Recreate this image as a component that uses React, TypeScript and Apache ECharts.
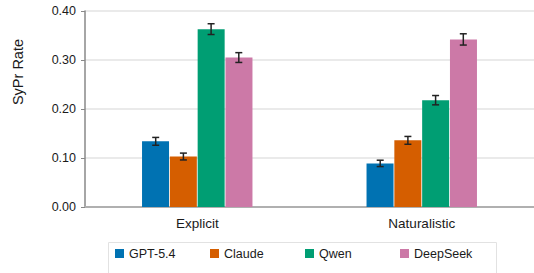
import React, { useEffect, useRef } from "react";
import * as echarts from "echarts";

const categories = ["Explicit", "Naturalistic"];
const models = ["GPT-5.4", "Claude", "Qwen", "DeepSeek"];
const colors = ["#0072B2", "#D55E00", "#009E73", "#CC79A7"];
const gptValues = [0.134, 0.089];
const claudeValues = [0.103, 0.136];
const qwenValues = [0.363, 0.218];
const deepseekValues = [0.305, 0.342];
const gptErr = [0.008, 0.0065];
const claudeErr = [0.007, 0.008];
const qwenErr = [0.011, 0.0095];
const deepseekErr = [0.010, 0.0115];
const yTicks = [0, 0.1, 0.2, 0.3, 0.4];

const values = [gptValues, claudeValues, qwenValues, deepseekValues];
const errs = [gptErr, claudeErr, qwenErr, deepseekErr];

const BAR_W = 27;
const STEP = 27.7;
const FONT = "Liberation Sans, Arial, Helvetica, sans-serif";

export default function App() {
  const ref = useRef<HTMLDivElement>(null);
  useEffect(() => {
    if (!ref.current) return;
    const chart = echarts.init(ref.current, undefined, { renderer: "svg" });
    const errData: number[][] = [];
    values.forEach((vals, s) => {
      vals.forEach((v, c) => errData.push([c, v, errs[s][c], s]));
    });
    const legendX = [115, 210, 305, 400];
    chart.setOption({
      animation: false,
      textStyle: { fontFamily: FONT },
      grid: { left: 85, top: 11, width: 450, height: 196, containLabel: false },
      legend: models.map((m, i) => ({
        data: [m],
        left: legendX[i],
        top: 247,
        padding: 0,
        icon: "rect",
        itemWidth: 9,
        itemHeight: 9,
        selectedMode: false,
        textStyle: { fontSize: 12.5, color: "#1a1a1a", fontFamily: FONT },
      })),
      graphic: [
        {
          type: "rect",
          left: 108,
          top: 242,
          shape: { width: 388, height: 40 },
          style: { fill: "#fff", stroke: "#e2e2e2", lineWidth: 1 },
          z: -1,
        },
        {
          type: "text",
          x: 18,
          y: 72,
          rotation: Math.PI / 2,
          style: {
            text: "SyPr Rate",
            fontSize: 14.5,
            fill: "#1a1a1a",
            fontFamily: FONT,
            align: "center",
            verticalAlign: "middle",
          },
        },
      ],
      xAxis: {
        type: "category",
        data: categories,
        axisLine: { lineStyle: { color: "#b0b0b0", width: 2 } },
        axisTick: { show: false },
        axisLabel: { fontSize: 13.5, color: "#1a1a1a", margin: 9, fontFamily: FONT },
      },
      yAxis: {
        type: "value",
        min: 0,
        max: 0.4,
        interval: 0.1,
        axisLine: { show: true, lineStyle: { color: "#888", width: 1.5 } },
        axisTick: { show: true, length: 4, lineStyle: { color: "#888" } },
        splitLine: { lineStyle: { color: "#e3e3e3", width: 1.5 } },
        axisLabel: {
          fontSize: 12.5,
          color: "#1a1a1a",
          margin: 9,
          fontFamily: FONT,
          formatter: (v: number) => (yTicks.includes(Math.round(v * 10) / 10) ? v.toFixed(2) : ""),
        },
      },
      series: [
        ...models.map((m, i) => ({
          name: m,
          type: "bar",
          data: values[i],
          barWidth: BAR_W,
          barGap: "3%",
          itemStyle: { color: colors[i] },
        })),
        {
          type: "custom",
          data: errData,
          encode: { x: 0, y: 1 },
          z: 10,
          renderItem: (params: any, api: any) => {
            const c = api.value(0);
            const v = api.value(1);
            const e = api.value(2);
            const s = api.value(3);
            const cx = api.coord([c, 0])[0] + (s - 1.5) * STEP;
            const yT = api.coord([c, v + e])[1];
            const yB = api.coord([c, v - e])[1];
            const hw = 3.5;
            const style = { stroke: "#222", lineWidth: 1.5 };
            return {
              type: "group",
              children: [
                { type: "line", shape: { x1: cx, y1: yT, x2: cx, y2: yB }, style },
                { type: "line", shape: { x1: cx - hw, y1: yT, x2: cx + hw, y2: yT }, style },
                { type: "line", shape: { x1: cx - hw, y1: yB, x2: cx + hw, y2: yB }, style },
              ],
            };
          },
        },
      ],
    });
    return () => chart.dispose();
  }, []);
  return (
    <div
      ref={ref}
      style={{ position: "fixed", left: 0, top: 0, width: 534, height: 273, background: "#fff" }}
    />
  );
}
